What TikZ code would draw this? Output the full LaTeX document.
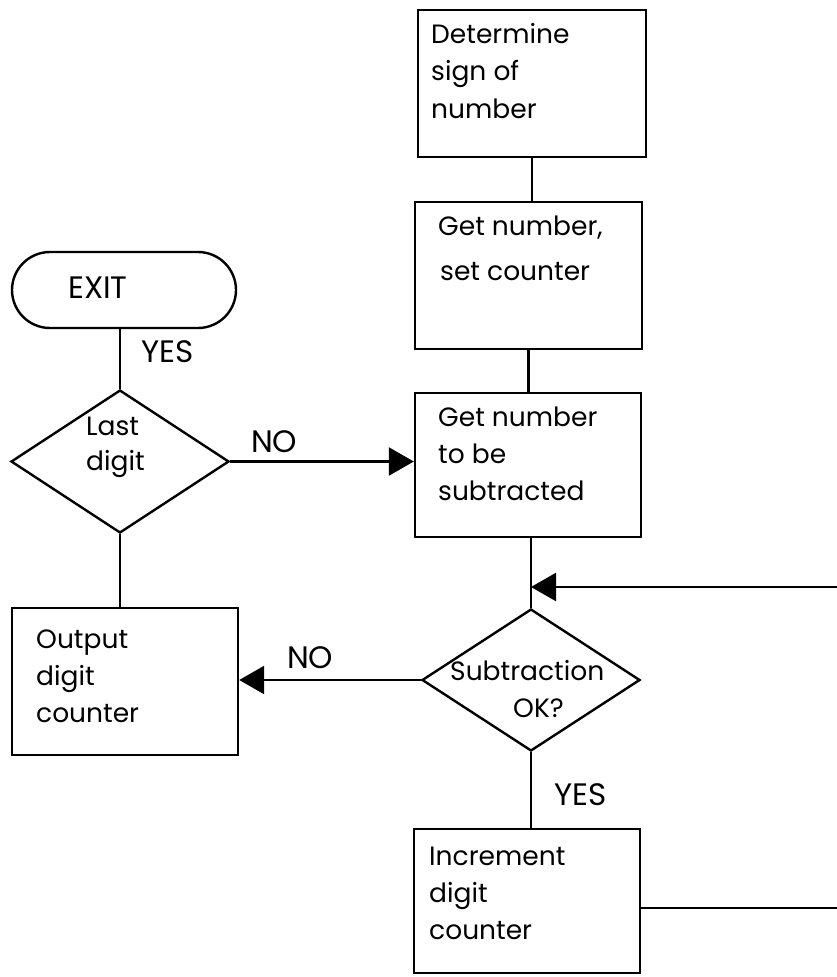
\documentclass[tikz,border=0pt]{standalone}
\usepackage{fontspec}
\setmainfont{Poppins}
\usetikzlibrary{arrows.meta,shapes.geometric}
\begin{document}
\begin{tikzpicture}[x=1pt,y=-1pt,line width=2.4pt,
  box/.style={draw, rectangle, inner sep=0pt},
  dec/.style={draw, diamond, inner sep=0pt},
  term/.style={draw, rectangle, rounded corners=38pt, inner sep=0pt},
  txt/.style={inner sep=0pt, anchor=base west, align=left, font=\fontsize{26.5}{37}\selectfont},
  lbl/.style={inner sep=0pt, anchor=base west, font=\fontsize{31}{37}\selectfont},
  arr/.style={-{Triangle[length=25pt,width=28pt]}}]
\useasboundingbox (0,0) rectangle (837,977);
% shapes
\node[box, minimum width=228pt, minimum height=147pt] (b1) at (532,83.5) {};
\node[box, minimum width=227pt, minimum height=147pt] (b2) at (528.5,275.5) {};
\node[box, minimum width=226pt, minimum height=144pt] (b3) at (528,465) {};
\node[dec, minimum width=218pt, minimum height=142pt] (d2) at (531,680) {};
\node[box, minimum width=226pt, minimum height=144pt] (b5) at (527,901) {};
\node[box, minimum width=226pt, minimum height=147pt] (out) at (125,681.5) {};
\node[dec, minimum width=218pt, minimum height=143pt] (d1) at (120,461.5) {};
\node[term, minimum width=224pt, minimum height=76pt] (exit) at (124,290) {};
% texts (anchor = baseline of the last line)
\node[txt] (t1) at (430,118) {Determine\\[0.5pt]sign of\\[0.5pt]number};
\node[txt] (t2) at (437,280) {Get number,\\[8pt]\hspace*{2pt}set counter};
\node[txt] (t3) at (437,500) {Get number\\to be\\subtracted};
\node[txt] (t5) at (428,939) {Increment\\digit\\counter};
\node[txt] (t6) at (35,722) {Output\\digit\\counter};
\node[txt] (t7) at (85,470) {Last\\[-2pt]digit};
\node[txt] (t8) at (449,717) {Subtraction\\\hspace*{63pt}OK?};
\node[lbl] (l1) at (67,298) {EXIT};
\node[lbl] (l2) at (140,362) {YES};
\node[lbl] (l3) at (250,452) {NO};
\node[lbl] (l4) at (286,668) {NO};
\node[lbl] (l5) at (553,805) {YES};
% connectors
\draw (b1.south) -- (b1.south |- b2.north);
\draw (b2.south) -- (b2.south |- b3.north);
\draw (d2.north) -- (d2.north |- b3.south);
\draw (d2.south) -- (d2.south |- b5.north);
\draw (d1.north) -- (d1.north |- exit.south);
\draw (d1.south) -- (d1.south |- out.north);
\draw[arr] (d1.east) -- (d1.east -| b3.west);
\draw[arr] (d2.west) -- (d2.west -| out.east);
\coordinate (r1) at (837,908);
\coordinate (r2) at (837,587);
\draw (r1 -| b5.east) -- (r1);
\draw[arr] (r2) -- (r2 -| d2.north);
\end{tikzpicture}
\end{document}
